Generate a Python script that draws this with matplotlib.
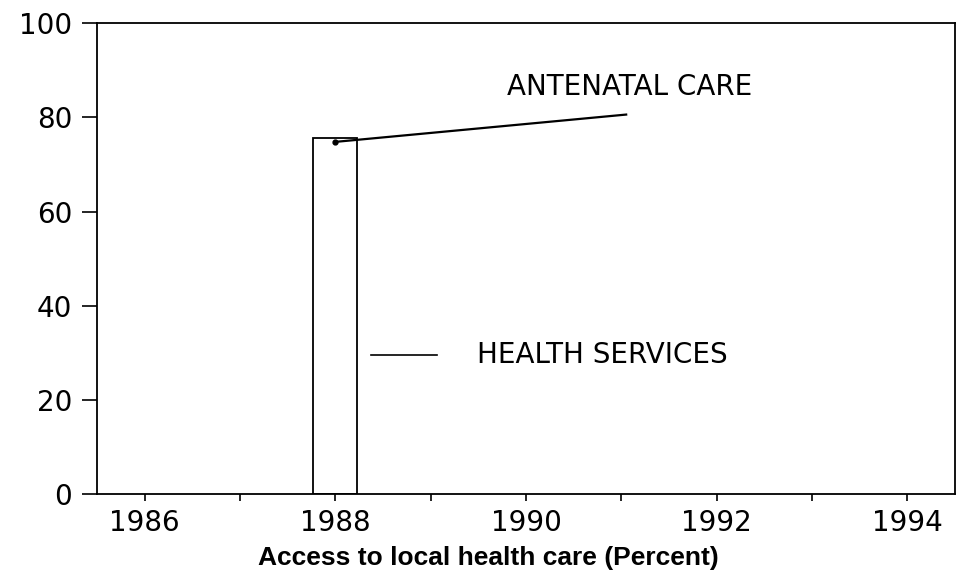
import matplotlib
matplotlib.use("Agg")
import matplotlib.pyplot as plt

# health services bar
hs_years = [1988]
hs_values = [75.6]

# antenatal care series
an_years = [1988, 1991.05]
an_values = [74.8, 80.6]

x_ticks = [1986, 1988, 1990, 1992, 1994]
y_ticks = [0, 20, 40, 60, 80, 100]

fig = plt.figure(figsize=(9.57, 5.8), dpi=100)
ax = fig.add_axes([0.1014, 0.148, 0.8966, 0.812])

ax.bar(hs_years, hs_values, width=0.46, color="white", edgecolor="black", linewidth=1.3)
ax.plot(an_years, an_values, color="black", linewidth=1.6)
ax.plot([an_years[0]], [an_values[0]], "o", color="black", markersize=3.5)

ax.text(1991.09, 86.4, "ANTENATAL CARE", fontsize=20, va="center", ha="center")
ax.plot([1988.37, 1989.07], [29.5, 29.5], color="black", linewidth=1.2)
ax.text(1990.8, 29.5, "HEALTH SERVICES", fontsize=20, va="center", ha="center")

ax.set_xlim(1985.5, 1994.5)
ax.set_ylim(0, 100)
ax.set_xticks(x_ticks)
ax.set_xticks(range(1986, 1995), minor=True)
ax.set_yticks(y_ticks)
ax.tick_params(axis="y", direction="out", length=11, width=1.2, labelsize=20, pad=7)
ax.tick_params(axis="x", which="both", direction="out", length=5, width=1.2, labelsize=20, pad=6)
for s in ax.spines.values():
    s.set_linewidth(1.3)

ax.set_xlabel("Access to local health care (Percent)", fontsize=19, fontweight="bold",
              family="Liberation Sans", va="center")
ax.xaxis.set_label_coords(0.456, -0.136)

fig.savefig("out.png", dpi=100)
